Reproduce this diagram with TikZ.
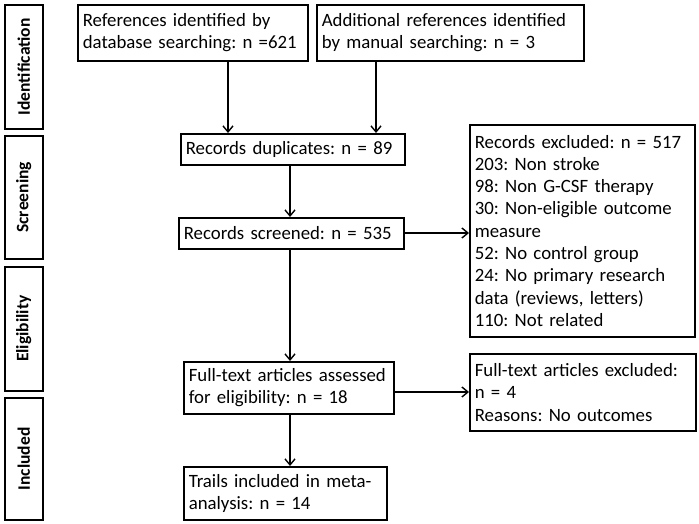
\documentclass[tikz,border=0pt]{standalone}
\usepackage{fontspec}
\setmainfont{Carlito}
\usetikzlibrary{arrows.meta}
\frenchspacing
\begin{document}
\begin{tikzpicture}[x=1pt,y=-1pt,
  box/.style={draw, line width=1.6pt, anchor=north west, align=left,
    inner xsep=5pt, inner ysep=2pt,
    font=\fontsize{18.8}{22.3}\selectfont},
  side/.style={draw, line width=1.6pt, anchor=north west, inner sep=0pt,
    minimum width=38pt},
  sidetext/.style={rotate=90, font=\fontsize{17.5}{20}\selectfont\bfseries},
  arr/.style={line width=1.4pt, -{Straight Barb[length=6pt,width=10pt,line width=1.4pt]}}]
\useasboundingbox (0,0) rectangle (699,524);
% stage labels
\node[side, minimum height=124pt] (sid) at (4,4) {};
\node[sidetext] (tid) at (sid.center) {Identification};
\node[side, minimum height=123pt] (ssc) at (4,135) {};
\node[sidetext] (tsc) at (ssc.center) {Screening};
\node[side, minimum height=124pt] (sel) at (4,266) {};
\node[sidetext] (tel) at (sel.center) {Eligibility};
\node[side, minimum height=122pt] (sin) at (4,397) {};
\node[sidetext] (tin) at (sin.center) {Included};
% boxes
\node[box, text width=220pt, minimum height=56pt] (b1) at (77,4) {References identified by\\database searching: n =621};
\node[box, text width=257pt, minimum height=56pt] (b2) at (316,4) {Additional references identified\\by manual searching: n = 3};
\node[box, text width=214pt, minimum height=31pt] (dup) at (180,133) {Records duplicates: n = 89};
\node[box, text width=215pt, minimum height=31pt] (scr) at (178,217) {Records screened: n = 535};
\node[box, text width=215pt, minimum height=212pt] (exc) at (469,124) {Records excluded: n = 517\\203: Non stroke\\98: Non G-CSF therapy\\30: Non-eligible outcome\\measure\\52: No control group\\24: No primary research\\data (reviews, letters)\\110: Not related};
\node[box, text width=200pt, minimum height=52pt] (ft) at (183,361) {Full-text articles assessed\\for eligibility: n = 18};
\node[box, text width=216pt, minimum height=77pt] (fte) at (469,353) {Full-text articles excluded:\\n = 4\\Reasons: No outcomes};
\node[box, text width=193pt, minimum height=53pt] (tr) at (183,466) {Trails included in meta-\\analysis: n = 14};
% guide coordinates
\coordinate (xa) at (228,0);
\coordinate (xb) at (376,0);
\coordinate (xc) at (290,0);
\coordinate (ya) at (0,233);
\coordinate (yb) at (0,392);
% connectors
\draw[arr] (b1.south -| xa) -- (dup.north -| xa);
\draw[arr] (b2.south -| xb) -- (dup.north -| xb);
\draw[arr] (dup.south -| xc) -- (scr.north -| xc);
\draw[arr] (scr.east |- ya) -- (exc.west |- ya);
\draw[arr] (scr.south -| xc) -- (ft.north -| xc);
\draw[arr] (ft.east |- yb) -- (fte.west |- yb);
\draw[arr] (ft.south -| xc) -- (tr.north -| xc);
\end{tikzpicture}
\end{document}
